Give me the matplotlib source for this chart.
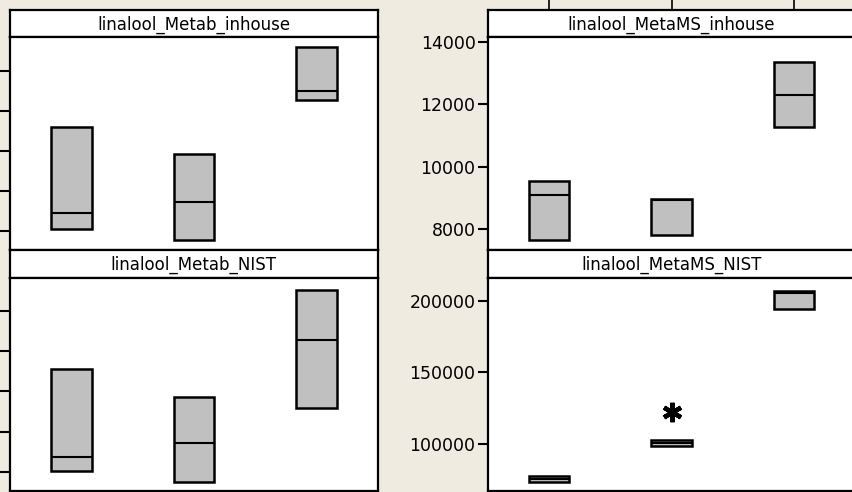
import numpy as np
import matplotlib.pyplot as plt

# box stats per panel: (q1, median, q3) for groups 1..3
groups = [1, 2, 3]

metab_inhouse = [(4035, 4450, 6610), (3770, 4720, 5920), (7280, 7510, 8590)]
metams_inhouse = [(7658, 9098, 9555), (7818, 8928, 8979), (11283, 12307, 13354)]
metab_nist = [(1025, 1375, 3550), (760, 1710, 2875), (2600, 4270, 5520)]
metams_nist = [(73240, 75350, 77460), (98590, 100700, 102600), (194600, 206000, 207000)]
metams_nist_outliers = [(2, 122000)]

titles = ["linalool_Metab_inhouse", "linalool_MetaMS_inhouse",
          "linalool_Metab_NIST", "linalool_MetaMS_NIST"]
ylims = [(3520, 8860), (7338, 14160), (525, 5830), (66900, 216400)]
yticks = [[4000, 5000, 6000, 7000, 8000],
          [8000, 10000, 12000, 14000],
          [1000, 2000, 3000, 4000, 5000],
          [100000, 150000, 200000]]

W, H = 852, 492
bg = "#efebe1"
boxgrey = "#c0c0c0"

fig = plt.figure(figsize=(W / 100, H / 100), dpi=100)
fig.patch.set_facecolor(bg)


def px_axes(x0, y0, x1, y1):
    # pixel box (top-left origin) -> figure axes
    return fig.add_axes([x0 / W, 1 - y1 / H, (x1 - x0) / W, (y1 - y0) / H])


def panel(x0, x1, strip_top, strip_bot, plot_bot, title, stats, ylim, ticks,
          show_labels, top_ticks, outliers=None):
    st = px_axes(x0, strip_top, x1, strip_bot)
    st.set_facecolor("white")
    st.set_xticks([])
    st.set_yticks([])
    for s in st.spines.values():
        s.set_linewidth(1.6)
    st.text(0.5, 0.45, title, ha="center", va="center", fontsize=12,
            transform=st.transAxes)

    ax = px_axes(x0, strip_bot, x1, plot_bot)
    ax.set_facecolor("white")
    bstats = []
    for q1, med, q3 in stats:
        bstats.append(dict(med=med, q1=q1, q3=q3, whislo=q1, whishi=q3, fliers=[]))
    ax.bxp(bstats, positions=groups, widths=0.33, showcaps=False, patch_artist=True,
           boxprops=dict(facecolor=boxgrey, edgecolor="black", linewidth=1.8),
           medianprops=dict(color="black", linewidth=1.5),
           whiskerprops=dict(color="black", linewidth=1.2))
    if outliers:
        ox = [o[0] for o in outliers]
        oy = [o[1] for o in outliers]
        ax.plot(ox, oy, linestyle="none", marker=(6, 2, 0), markersize=14,
                markeredgewidth=3.2, color="black")
    ax.set_xlim(0.5, 3.5)
    ax.set_ylim(*ylim)
    ax.set_yticks(ticks)
    if show_labels:
        ax.set_yticklabels([str(t) for t in ticks])
    ax.tick_params(axis="y", direction="out", length=7.5, width=1.5,
                   labelleft=show_labels, labelsize=12.5, pad=1.5)
    ax.set_xticks([])
    for s in ax.spines.values():
        s.set_linewidth(1.6)
    if top_ticks:
        # group ticks sit above the strip
        st.set_xlim(0.5, 3.5)
        st.set_xticks(groups)
        st.tick_params(axis="x", top=True, bottom=False, labeltop=False,
                       labelbottom=False, direction="out", length=7.5, width=1.2)
    return ax


panel(10, 377.7, 10, 36.7, 250, titles[0], metab_inhouse, ylims[0], yticks[0],
      False, False)
panel(488, 855, 10, 36.7, 250, titles[1], metams_inhouse, ylims[1], yticks[1],
      True, True)
panel(10, 377.7, 250, 277.7, 491, titles[2], metab_nist, ylims[2], yticks[2],
      False, False)
panel(488, 855, 250, 277.7, 491, titles[3], metams_nist, ylims[3], yticks[3],
      True, False, metams_nist_outliers)

fig.savefig("out.png", dpi=100, facecolor=bg)
